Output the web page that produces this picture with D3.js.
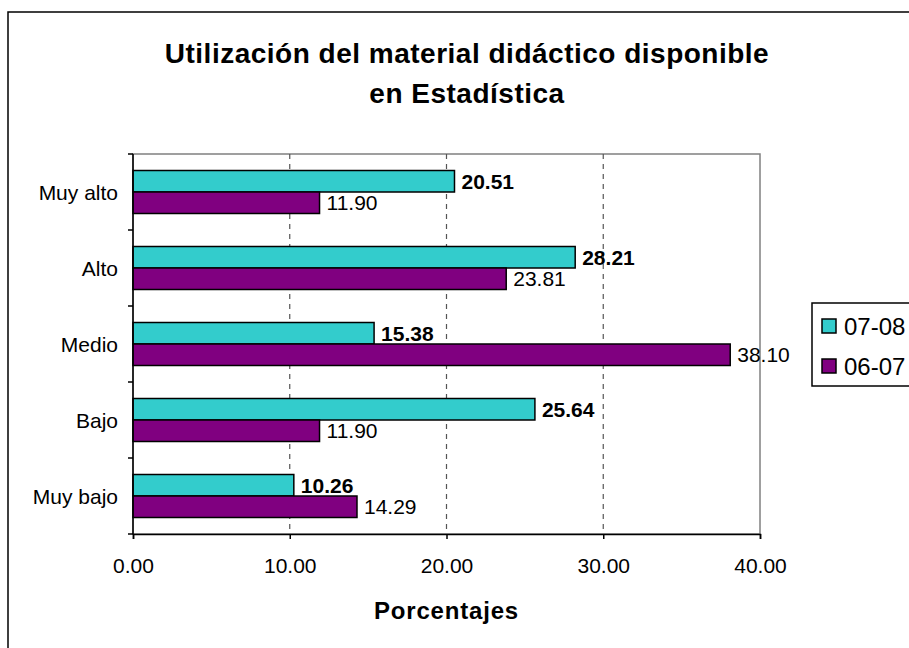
<!DOCTYPE html>
<html>
<head>
<meta charset="utf-8">
<script src="https://cdn.jsdelivr.net/npm/d3@7"></script>
<style>
  html, body { margin: 0; padding: 0; background: #fff; }
  svg { display: block; font-family: "Liberation Sans", Arial, sans-serif; }
</style>
</head>
<body>
<svg id="chart" width="909" height="648"></svg>
<script>
const categories = ["Muy alto", "Alto", "Medio", "Bajo", "Muy bajo"];
const seriesNames = ["07-08", "06-07"];
const values0708 = [20.51, 28.21, 15.38, 25.64, 10.26];
const values0607 = [11.90, 23.81, 38.10, 11.90, 14.29];
const xTicks = [0, 10, 20, 30, 40];
const titleLines = ["Utilización del material didáctico disponible", "en Estadística"];
const xTitle = "Porcentajes";
const colors = ["#33CCCC", "#800080"];

const svg = d3.select("#chart");
const plot = { left: 133, right: 760, top: 154, bottom: 534 };

// outer chart border
svg.append("rect").attr("x", 8).attr("y", 12).attr("width", 1000).attr("height", 1000)
  .attr("fill", "#fff").attr("stroke", "#000").attr("stroke-width", 1.5);

// title
const title = svg.append("text").attr("x", 467).attr("text-anchor", "middle")
  .attr("font-weight", "bold").attr("font-size", 28).attr("letter-spacing", 0.5).attr("fill", "#000");
titleLines.forEach((t, i) => {
  title.append("tspan").attr("x", 467).attr("y", 63 + i * 40).text(t);
});

const x = d3.scaleLinear().domain([0, 40]).range([plot.left, plot.right]);
const y = d3.scaleBand().domain(categories).range([plot.top, plot.bottom]).paddingInner(0).paddingOuter(0);
const barH = 21.5;

// plot area border (gray)
svg.append("rect").attr("x", plot.left).attr("y", plot.top)
  .attr("width", plot.right - plot.left).attr("height", plot.bottom - plot.top)
  .attr("fill", "none").attr("stroke", "#808080").attr("stroke-width", 1.5);

// gridlines
svg.append("g").selectAll("line").data(xTicks.filter(d => d > 0 && d < 40)).join("line")
  .attr("x1", d => x(d)).attr("x2", d => x(d))
  .attr("y1", plot.top).attr("y2", plot.bottom)
  .attr("stroke", "#555").attr("stroke-width", 1.2).attr("stroke-dasharray", "5,5");

// bars
const series = [values0708, values0607];
series.forEach((vals, s) => {
  svg.append("g").selectAll("rect").data(categories).join("rect")
    .attr("x", x(0))
    .attr("y", (c) => y(c) + y.bandwidth() / 2 - barH + s * barH)
    .attr("width", (c, i) => x(vals[i]) - x(0))
    .attr("height", barH)
    .attr("fill", colors[s]).attr("stroke", "#000").attr("stroke-width", 1.5);
  svg.append("g").selectAll("text").data(categories).join("text")
    .attr("x", (c, i) => x(vals[i]) + 7)
    .attr("y", (c) => y(c) + y.bandwidth() / 2 - barH / 2 + s * barH)
    .attr("dy", "0.36em")
    .attr("font-size", 21).attr("font-weight", s === 0 ? "bold" : "normal")
    .attr("fill", "#000")
    .text((c, i) => vals[i].toFixed(2));
});

// x axis
const xAxis = d3.axisBottom(x).tickValues(xTicks).tickFormat(d => d.toFixed(2)).tickSize(5).tickPadding(19);
const gx = svg.append("g").attr("transform", `translate(0,${plot.bottom})`).call(xAxis);
gx.select(".domain").attr("stroke", "#000").attr("stroke-width", 1.5);
gx.selectAll(".tick line").attr("stroke", "#000").attr("stroke-width", 1.5);
gx.selectAll(".tick text").attr("font-size", 21).attr("font-family", "Liberation Sans, Arial, sans-serif").attr("fill", "#000");

// y axis: ticks at category boundaries
const gy = svg.append("g");
gy.append("line").attr("x1", plot.left).attr("x2", plot.left).attr("y1", plot.top).attr("y2", plot.bottom)
  .attr("stroke", "#000").attr("stroke-width", 1.5);
const boundaries = categories.map(c => y(c)).concat([plot.bottom]);
gy.selectAll("line.tk").data(boundaries).join("line").attr("class", "tk")
  .attr("x1", plot.left - 5).attr("x2", plot.left).attr("y1", d => d).attr("y2", d => d)
  .attr("stroke", "#000").attr("stroke-width", 1.5);
gy.selectAll("text").data(categories).join("text")
  .attr("x", plot.left - 15).attr("y", c => y(c) + y.bandwidth() / 2)
  .attr("dy", "0.36em").attr("text-anchor", "end").attr("font-size", 21).attr("fill", "#000")
  .text(c => c);

// x title
svg.append("text").attr("x", (plot.left + plot.right) / 2).attr("y", 619)
  .attr("text-anchor", "middle").attr("font-weight", "bold").attr("font-size", 24)
  .attr("letter-spacing", 0.8).attr("fill", "#000").text(xTitle);

// legend
const lg = svg.append("g");
lg.append("rect").attr("x", 812).attr("y", 303).attr("width", 200).attr("height", 83)
  .attr("fill", "#fff").attr("stroke", "#000").attr("stroke-width", 1.5);
seriesNames.forEach((n, i) => {
  const cy = 326 + i * 40;
  lg.append("rect").attr("x", 822).attr("y", cy - 7).attr("width", 14).attr("height", 14)
    .attr("fill", colors[i]).attr("stroke", "#000").attr("stroke-width", 1.5);
  lg.append("text").attr("x", 844).attr("y", cy).attr("dy", "0.36em")
    .attr("font-size", 24).attr("fill", "#000").text(n);
});
</script>
</body>
</html>
